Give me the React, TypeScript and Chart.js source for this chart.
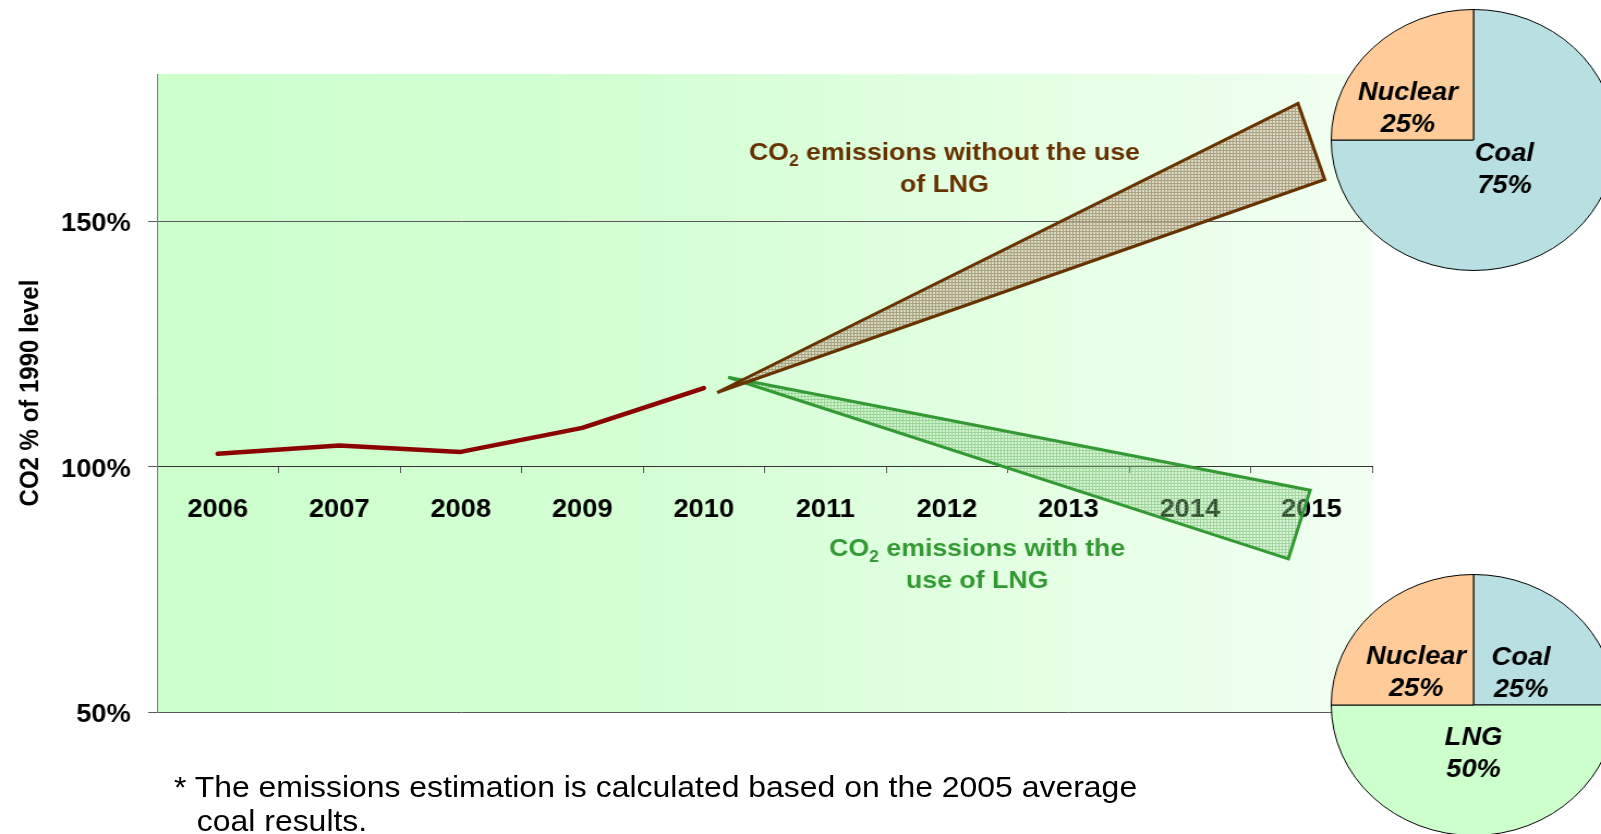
import React, { useEffect, useRef } from "react";
import { Chart, registerables } from "chart.js";

Chart.register(...registerables);

// ---------- data ----------
const years = ["2006", "2007", "2008", "2009", "2010", "2011", "2012", "2013", "2014", "2015"];
const actualEmissions: (number | null)[] = [102.6, 104.3, 103.0, 107.9, 116.0, null, null, null, null, null];

// wedge outlines: x = position on the year axis (0 = 2006 ... 9 = 2015), y = % of 1990 level
const withoutLngX = [4.11, 8.89, 9.11, 4.11];
const withoutLngY = [115.1, 174.0, 158.5, 115.1];
const withLngX = [4.2, 8.99, 8.81, 4.31, 4.2];
const withLngY = [118.2, 95.2, 81.2, 117.3, 118.2];

const yTicks = [50, 100, 150];
const yMin = 50;
const yMax = 180;

const pieNowLabels = ["Coal", "Nuclear"];
const pieNowValues = [75, 25];
const pieLngLabels = ["Coal", "LNG", "Nuclear"];
const pieLngValues = [25, 50, 25];

const axisTitle = "CO2 % of 1990 level";
const footLine1 = "* The emissions estimation is calculated based on the 2005 average";
const footLine2 = "coal results.";

// ---------- styling / layout ----------
const FONT = "'Liberation Sans', Arial, Helvetica, sans-serif";
const W = 1469;
const H = 834;
const SX = 1601 / W;

const noteSpecs = [
  {
    x: 5.98, y: 161, color: "#663300",
    lines: [[["CO", false], ["2", true], [" emissions without the use", false]], [["of LNG", false]]],
  },
  {
    x: 6.25, y: 80.35, color: "#339933",
    lines: [[["CO", false], ["2", true], [" emissions with the", false]], [["use of LNG", false]]],
  },
] as { x: number; y: number; color: string; lines: [string, boolean][][] }[];

const pieNowOffsets = [[28.4, 30.5], [-60.2, -31]];
const pieLngOffsets = [[43.7, -31], [0, 49.5], [-52.6, -32]];

const COAL = "#b8dfe2";
const NUCLEAR = "#ffcc99";
const LNG = "#ccffcc";

function makePattern(lineColor: string, fillColor: string) {
  const c = document.createElement("canvas");
  c.width = 3;
  c.height = 3;
  const g = c.getContext("2d")!;
  g.fillStyle = fillColor;
  g.fillRect(1, 1, 2, 2);
  g.fillStyle = lineColor;
  g.fillRect(0, 0, 3, 1);
  g.fillRect(0, 1, 1, 2);
  return g.createPattern(c, "repeat")!;
}

const bgPlugin = {
  id: "plotBg",
  beforeDraw(chart: any) {
    const { ctx, chartArea: a } = chart;
    const g = ctx.createLinearGradient(a.left, 0, a.right, 0);
    g.addColorStop(0, "#ccffcc");
    g.addColorStop(0.4, "#d4ffd4");
    g.addColorStop(1, "#f2fff2");
    ctx.save();
    ctx.fillStyle = g;
    ctx.fillRect(a.left, a.top, a.right - a.left, a.bottom - a.top);
    ctx.restore();
  },
};

const notesPlugin = {
  id: "notes",
  afterDatasetsDraw(chart: any) {
    const ctx: CanvasRenderingContext2D = chart.ctx;
    const xs = chart.scales.xw;
    const ys = chart.scales.y;
    const big = `bold 24.5px ${FONT}`;
    const small = `bold 16px ${FONT}`;
    ctx.save();
    for (const n of noteSpecs) {
      const cx = xs.getPixelForValue(n.x);
      const cy = ys.getPixelForValue(n.y);
      ctx.fillStyle = n.color;
      ctx.textBaseline = "alphabetic";
      ctx.textAlign = "left";
      n.lines.forEach((parts, li) => {
        let w = 0;
        for (const [t, sub] of parts) {
          ctx.font = sub ? small : big;
          w += ctx.measureText(t).width;
        }
        let x = cx - w / 2;
        const base = cy - 7 + li * 32;
        for (const [t, sub] of parts) {
          ctx.font = sub ? small : big;
          ctx.fillText(t, x, sub ? base + 6 : base);
          x += ctx.measureText(t).width;
        }
      });
    }
    ctx.restore();
  },
};

function pieLabelPlugin(labels: string[], values: number[], offsets: number[][]) {
  return {
    id: "pieLabels",
    afterDatasetsDraw(chart: any) {
      const ctx: CanvasRenderingContext2D = chart.ctx;
      const meta = chart.getDatasetMeta(0);
      ctx.save();
      ctx.font = `italic bold 25px ${FONT}`;
      ctx.fillStyle = "#000";
      ctx.textAlign = "center";
      ctx.textBaseline = "middle";
      meta.data.forEach((arc: any, i: number) => {
        const x = arc.x + offsets[i][0];
        const y = arc.y + offsets[i][1];
        ctx.fillText(labels[i], x, y - 16);
        ctx.fillText(values[i] + "%", x, y + 16);
      });
      ctx.restore();
    },
  };
}

function makePie(canvas: HTMLCanvasElement, labels: string[], values: number[], colors: string[], offsets: number[][]) {
  return new Chart(canvas, {
    type: "pie",
    data: {
      labels,
      datasets: [{ data: values, backgroundColor: colors, borderColor: "#000", borderWidth: 1 }],
    },
    options: {
      animation: false,
      responsive: false,
      events: [],
      layout: { padding: 0 },
      plugins: { legend: { display: false }, tooltip: { enabled: false } },
    },
    plugins: [pieLabelPlugin(labels, values, offsets)],
  } as any);
}

export default function App() {
  const mainRef = useRef<HTMLCanvasElement>(null);
  const pie1Ref = useRef<HTMLCanvasElement>(null);
  const pie2Ref = useRef<HTMLCanvasElement>(null);

  useEffect(() => {
    const brownPattern = makePattern("rgba(150,130,95,0.75)", "rgba(210,200,175,0.65)");
    const greenPattern = makePattern("rgba(110,185,105,0.6)", "rgba(175,222,170,0.3)");

    const main = new Chart(mainRef.current!, {
      type: "line",
      data: {
        labels: years,
        datasets: [
          {
            label: "CO2 emissions without the use of LNG",
            data: withoutLngX.map((x, i) => ({ x, y: withoutLngY[i] })),
            xAxisID: "xw",
            yAxisID: "y",
            borderColor: "#663300",
            borderWidth: 3,
            backgroundColor: brownPattern,
            fill: "shape",
            pointRadius: 0,
            tension: 0,
            borderJoinStyle: "miter",
          },
          {
            label: "CO2 emissions with the use of LNG",
            data: withLngX.map((x, i) => ({ x, y: withLngY[i] })),
            xAxisID: "xw",
            yAxisID: "y",
            borderColor: "#339933",
            borderWidth: 3,
            backgroundColor: greenPattern,
            fill: "shape",
            pointRadius: 0,
            tension: 0,
            borderJoinStyle: "miter",
          },
          {
            label: "CO2 emissions",
            data: actualEmissions,
            xAxisID: "x",
            yAxisID: "y",
            borderColor: "#8b0000",
            borderWidth: 4.5,
            fill: false,
            pointRadius: 0,
            tension: 0,
            borderCapStyle: "round",
            borderJoinStyle: "round",
          },
        ],
      },
      options: {
        animation: false,
        responsive: false,
        events: [],
        layout: { padding: { left: 0, top: 74, right: 210, bottom: 122 } },
        plugins: { legend: { display: false }, tooltip: { enabled: false } },
        scales: {
          x: {
            type: "category",
            position: { y: 100 },
            offset: true,
            grid: { offset: true, drawOnChartArea: false, drawTicks: true, tickLength: 6, color: "#595959" },
            border: { display: true, color: "#333333", width: 1 },
            ticks: {
              color: "#000",
              font: { family: FONT, size: 25, weight: "bold" },
              padding: 22.5,
              maxRotation: 0,
              autoSkip: false,
            },
          },
          xw: {
            type: "linear",
            axis: "x",
            position: "bottom",
            display: false,
            min: -0.5,
            max: 9.5,
          },
          y: {
            type: "linear",
            position: "left",
            min: yMin,
            max: yMax,
            afterFit: (s: any) => {
              s.width = 144;
            },
            afterBuildTicks: (s: any) => {
              s.ticks = yTicks.map((v) => ({ value: v }));
            },
            ticks: {
              includeBounds: false,
              stepSize: 50,
              callback: (v: any) => v + "%",
              color: "#000",
              font: { family: FONT, size: 25, weight: "bold" },
              padding: 16,
              labelOffset: 3,
            },
            grid: { color: "#595959", tickLength: 8, drawTicks: true, lineWidth: 1 },
            border: { display: true, color: "#808080", width: 1 },
            title: {
              display: true,
              text: axisTitle,
              color: "#000",
              font: { family: FONT, size: 24, weight: "bold" },
              padding: { top: 14, bottom: 0 },
            },
          },
        },
      },
      plugins: [bgPlugin, notesPlugin],
    } as any);

    const p1 = makePie(pie1Ref.current!, pieNowLabels, pieNowValues, [COAL, NUCLEAR], pieNowOffsets);
    const p2 = makePie(pie2Ref.current!, pieLngLabels, pieLngValues, [COAL, LNG, NUCLEAR], pieLngOffsets);

    return () => {
      main.destroy();
      p1.destroy();
      p2.destroy();
    };
  }, []);

  return (
    <div style={{ position: "fixed", left: 0, top: 0, width: 1601, height: 834, overflow: "hidden", background: "#fff" }}>
      <div
        style={{
          position: "absolute",
          left: 0,
          top: 0,
          width: W,
          height: H,
          transform: `scaleX(${SX})`,
          transformOrigin: "0 0",
        }}
      >
        <canvas ref={mainRef} width={W} height={H} style={{ position: "absolute", left: 0, top: 0 }} />
        <canvas ref={pie1Ref} width={262} height={262} style={{ position: "absolute", left: 1221, top: 9 }} />
        <canvas ref={pie2Ref} width={262} height={262} style={{ position: "absolute", left: 1221, top: 574 }} />
        <div
          style={{
            position: "absolute",
            left: 159.6,
            top: 770,
            fontFamily: FONT,
            fontSize: 29.3,
            lineHeight: "34px",
            color: "#000",
            whiteSpace: "nowrap",
          }}
        >
          <div>{footLine1}</div>
          <div style={{ paddingLeft: 21 }}>{footLine2}</div>
        </div>
      </div>
    </div>
  );
}
